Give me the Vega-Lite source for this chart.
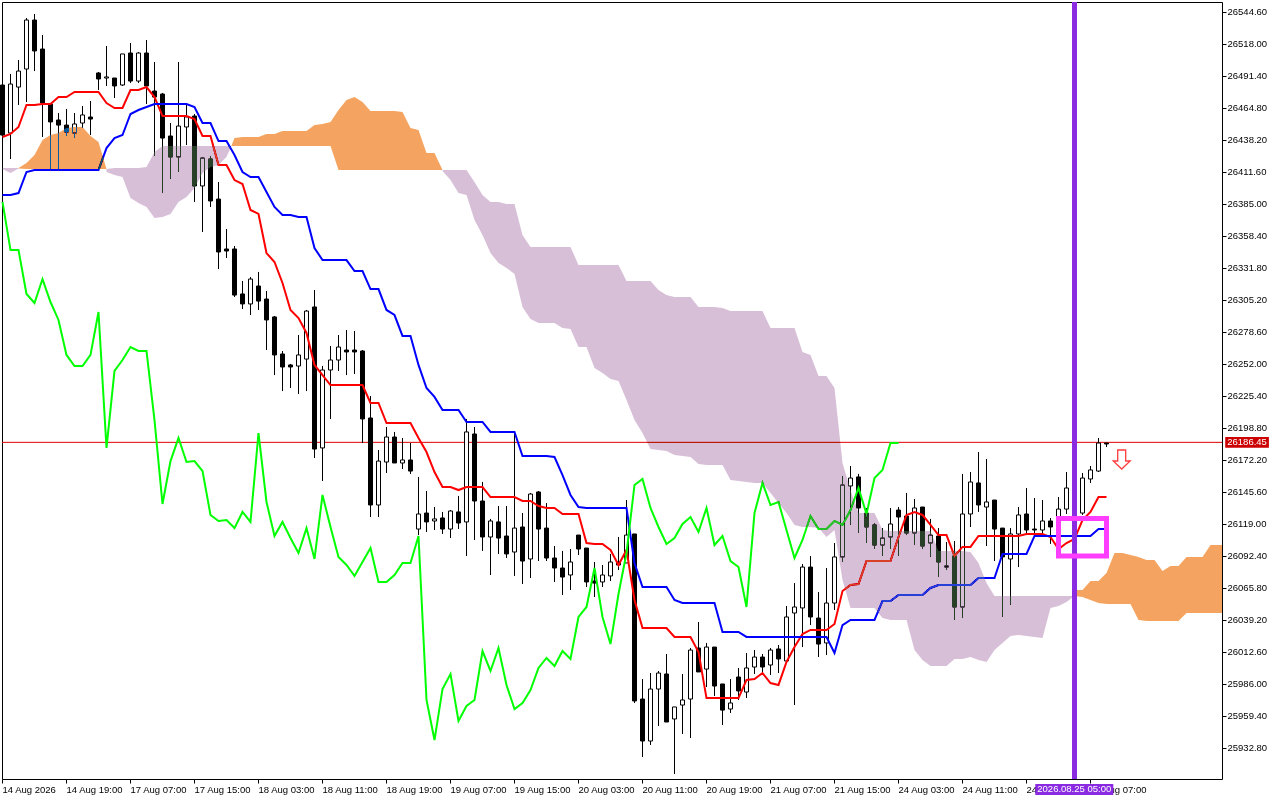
{"$schema":"https://vega.github.io/schema/vega-lite/v6.json","width":1220,"height":777,"autosize":{"type":"none"},"padding":{"left":2,"top":2,"right":58,"bottom":21},"background":"white","view":{"stroke":"black","strokeWidth":1,"fill":"white"},
"datasets":{"candles":[
{"i":0,"o":26483.5,"h":26483.5,"l":26441.9,"c":26441.9,"t":26440.3,"k":26392.1,"s":26386.3},
{"i":1,"o":26443.6,"h":26492.7,"l":26422.0,"c":26484.3,"t":26442.8,"k":26392.1,"s":26346.3},
{"i":2,"o":26481.8,"h":26504.3,"l":26466.9,"c":26495.1,"t":26448.6,"k":26393.7,"s":26346.3},
{"i":3,"o":26496.8,"h":26539.2,"l":26469.4,"c":26537.5,"t":26466.9,"k":26411.2,"s":26309.8},
{"i":4,"o":26537.5,"h":26542.5,"l":26495.1,"c":26511.8,"t":26466.9,"k":26412.8,"s":26302.3},
{"i":5,"o":26513.4,"h":26525.1,"l":26440.3,"c":26468.5,"t":26467.7,"k":26412.8,"s":26322.2},
{"i":6,"o":26467.7,"h":26467.7,"l":26413.7,"c":26452.8,"t":26467.7,"k":26412.8,"s":26303.1},
{"i":7,"o":26454.4,"h":26460.2,"l":26413.7,"c":26450.2,"t":26473.5,"k":26412.8,"s":26288.2},
{"i":8,"o":26450.2,"h":26463.6,"l":26441.1,"c":26444.4,"t":26473.5,"k":26412.8,"s":26259.1},
{"i":9,"o":26443.6,"h":26460.2,"l":26439.4,"c":26451.1,"t":26477.7,"k":26412.8,"s":26249.9},
{"i":10,"o":26451.9,"h":26466.0,"l":26447.8,"c":26458.6,"t":26477.7,"k":26412.8,"s":26249.9},
{"i":11,"o":26456.9,"h":26470.2,"l":26441.9,"c":26455.2,"t":26477.7,"k":26412.8,"s":26259.1},
{"i":12,"o":26493.5,"h":26494.3,"l":26479.3,"c":26488.5,"t":26477.7,"k":26412.8,"s":26294.8},
{"i":13,"o":26489.3,"h":26515.9,"l":26482.7,"c":26490.2,"t":26468.5,"k":26431.1,"s":26181.8},
{"i":14,"o":26489.3,"h":26489.3,"l":26472.7,"c":26482.7,"t":26464.4,"k":26439.4,"s":26245.8},
{"i":15,"o":26483.5,"h":26509.3,"l":26482.7,"c":26509.3,"t":26464.4,"k":26441.9,"s":26254.9},
{"i":16,"o":26510.1,"h":26518.4,"l":26485.2,"c":26486.8,"t":26479.3,"k":26459.4,"s":26265.7},
{"i":17,"o":26486.8,"h":26510.9,"l":26485.2,"c":26510.1,"t":26479.3,"k":26462.7,"s":26262.4},
{"i":18,"o":26510.1,"h":26520.9,"l":26467.7,"c":26482.7,"t":26481.8,"k":26465.2,"s":26262.4},
{"i":19,"o":26478.5,"h":26502.6,"l":26424.5,"c":26473.5,"t":26473.5,"k":26467.7,"s":26205.0},
{"i":20,"o":26476.0,"h":26476.9,"l":26393.7,"c":26439.4,"t":26457.7,"k":26467.7,"s":26135.2},
{"i":21,"o":26441.1,"h":26451.9,"l":26405.4,"c":26423.7,"t":26457.7,"k":26467.7,"s":26170.9},
{"i":22,"o":26423.7,"h":26502.6,"l":26411.2,"c":26449.4,"t":26457.7,"k":26467.7,"s":26190.1},
{"i":23,"o":26448.6,"h":26466.9,"l":26433.6,"c":26456.9,"t":26457.7,"k":26467.7,"s":26170.1},
{"i":24,"o":26457.7,"h":26459.4,"l":26386.3,"c":26399.6,"t":26455.2,"k":26465.2,"s":26170.9},
{"i":25,"o":26399.6,"h":26423.7,"l":26361.3,"c":26422.8,"t":26441.1,"k":26451.9,"s":26162.6},
{"i":26,"o":26422.0,"h":26424.5,"l":26382.1,"c":26387.1,"t":26441.1,"k":26451.9,"s":26126.1},
{"i":27,"o":26388.7,"h":26402.9,"l":26330.5,"c":26344.7,"t":26417.0,"k":26436.9,"s":26121.1},
{"i":28,"o":26347.2,"h":26363.8,"l":26339.7,"c":26345.5,"t":26417.0,"k":26436.9,"s":26121.9},
{"i":29,"o":26347.2,"h":26349.7,"l":26307.3,"c":26308.9,"t":26404.5,"k":26425.3,"s":26115.2},
{"i":30,"o":26309.8,"h":26320.6,"l":26297.3,"c":26301.5,"t":26401.2,"k":26411.2,"s":26128.6},
{"i":31,"o":26301.5,"h":26323.9,"l":26292.3,"c":26322.2,"t":26379.6,"k":26407.0,"s":26120.3},
{"i":32,"o":26316.4,"h":26328.1,"l":26296.5,"c":26303.9,"t":26376.3,"k":26407.0,"s":26194.2},
{"i":33,"o":26305.6,"h":26312.3,"l":26263.2,"c":26288.2,"t":26343.8,"k":26394.6,"s":26136.9},
{"i":34,"o":26290.7,"h":26291.5,"l":26242.4,"c":26259.1,"t":26336.4,"k":26382.1,"s":26108.6},
{"i":35,"o":26259.9,"h":26262.4,"l":26229.1,"c":26249.1,"t":26318.9,"k":26375.4,"s":26120.3},
{"i":36,"o":26250.8,"h":26251.6,"l":26231.6,"c":26249.1,"t":26296.5,"k":26375.4,"s":26106.9},
{"i":37,"o":26249.9,"h":26275.7,"l":26226.7,"c":26259.1,"t":26289.8,"k":26373.8,"s":26094.5},
{"i":38,"o":26255.7,"h":26296.5,"l":26229.1,"c":26295.6,"t":26277.4,"k":26373.8,"s":26115.2},
{"i":39,"o":26299.0,"h":26313.1,"l":26173.4,"c":26180.9,"t":26250.8,"k":26348.0,"s":26089.5},
{"i":40,"o":26181.8,"h":26250.0,"l":26154.3,"c":26246.6,"t":26242.4,"k":26338.0,"s":26142.7},
{"i":41,"o":26246.6,"h":26266.5,"l":26205.9,"c":26254.9,"t":26234.1,"k":26338.0,"s":26116.1},
{"i":42,"o":26254.9,"h":26275.7,"l":26245.8,"c":26265.7,"t":26234.1,"k":26338.0,"s":26091.2},
{"i":43,"o":26263.2,"h":26279.8,"l":26242.4,"c":26261.6,"t":26234.1,"k":26338.0,"s":26084.5},
{"i":44,"o":26263.2,"h":26279.0,"l":26243.3,"c":26261.6,"t":26234.1,"k":26328.9,"s":26075.4},
{"i":45,"o":26262.4,"h":26263.2,"l":26185.9,"c":26205.9,"t":26234.1,"k":26328.9,"s":26087.0},
{"i":46,"o":26206.7,"h":26225.0,"l":26124.4,"c":26134.4,"t":26219.2,"k":26313.9,"s":26098.6},
{"i":47,"o":26134.4,"h":26180.1,"l":26124.4,"c":26170.9,"t":26219.2,"k":26313.9,"s":26070.4},
{"i":48,"o":26170.1,"h":26199.2,"l":26161.0,"c":26190.9,"t":26202.5,"k":26296.5,"s":26070.4},
{"i":49,"o":26190.9,"h":26195.1,"l":26169.3,"c":26169.3,"t":26202.5,"k":26292.3,"s":26076.2},
{"i":50,"o":26169.3,"h":26190.1,"l":26164.3,"c":26171.8,"t":26202.5,"k":26274.9,"s":26086.2},
{"i":51,"o":26171.8,"h":26185.9,"l":26160.2,"c":26162.6,"t":26202.5,"k":26274.9,"s":26086.2},
{"i":52,"o":26114.4,"h":26157.7,"l":26109.4,"c":26126.9,"t":26190.1,"k":26250.8,"s":26108.6},
{"i":53,"o":26127.7,"h":26146.0,"l":26111.9,"c":26120.3,"t":26178.4,"k":26231.6,"s":25972.3},
{"i":54,"o":26121.1,"h":26132.7,"l":26113.6,"c":26122.8,"t":26161.8,"k":26224.2,"s":25939.0},
{"i":55,"o":26123.6,"h":26128.6,"l":26110.3,"c":26114.4,"t":26149.3,"k":26213.3,"s":25981.4},
{"i":56,"o":26114.4,"h":26130.2,"l":26106.9,"c":26129.4,"t":26149.3,"k":26213.3,"s":25993.9},
{"i":57,"o":26128.6,"h":26141.9,"l":26114.4,"c":26119.4,"t":26146.8,"k":26213.3,"s":25954.8},
{"i":58,"o":26120.3,"h":26205.9,"l":26092.0,"c":26195.1,"t":26149.3,"k":26203.4,"s":25967.3},
{"i":59,"o":26193.4,"h":26199.2,"l":26105.3,"c":26137.7,"t":26149.3,"k":26203.4,"s":25972.3},
{"i":60,"o":26137.7,"h":26153.5,"l":26096.2,"c":26107.8,"t":26149.3,"k":26203.4,"s":26013.0},
{"i":61,"o":26107.8,"h":26122.8,"l":26076.2,"c":26121.1,"t":26141.0,"k":26195.1,"s":25996.4},
{"i":62,"o":26120.3,"h":26133.5,"l":26093.7,"c":26106.9,"t":26141.0,"k":26195.1,"s":26015.5},
{"i":63,"o":26108.6,"h":26133.5,"l":26090.3,"c":26093.7,"t":26141.0,"k":26195.1,"s":25984.8},
{"i":64,"o":26095.3,"h":26195.1,"l":26075.4,"c":26115.2,"t":26141.0,"k":26195.1,"s":25964.8},
{"i":65,"o":26116.1,"h":26127.7,"l":26068.7,"c":26087.8,"t":26137.7,"k":26175.1,"s":25969.8},
{"i":66,"o":26089.5,"h":26144.4,"l":26073.7,"c":26143.5,"t":26137.7,"k":26175.1,"s":25980.6},
{"i":67,"o":26145.2,"h":26146.0,"l":26087.8,"c":26114.4,"t":26133.5,"k":26175.1,"s":25998.9},
{"i":68,"o":26115.2,"h":26136.0,"l":26087.8,"c":26090.3,"t":26131.9,"k":26175.1,"s":26007.2},
{"i":69,"o":26090.3,"h":26100.3,"l":26070.4,"c":26082.0,"t":26131.9,"k":26174.3,"s":26000.5},
{"i":70,"o":26082.0,"h":26096.2,"l":26059.6,"c":26074.5,"t":26126.9,"k":26159.3,"s":26013.0},
{"i":71,"o":26076.2,"h":26097.8,"l":26063.7,"c":26087.0,"t":26126.9,"k":26142.7,"s":26006.4},
{"i":72,"o":26109.4,"h":26109.4,"l":26092.8,"c":26097.8,"t":26126.9,"k":26132.7,"s":26041.3},
{"i":73,"o":26098.6,"h":26098.6,"l":26066.2,"c":26070.4,"t":26102.8,"k":26131.9,"s":26049.6},
{"i":74,"o":26071.2,"h":26087.0,"l":26057.9,"c":26069.5,"t":26102.0,"k":26131.9,"s":26082.0},
{"i":75,"o":26070.4,"h":26084.5,"l":26066.2,"c":26076.2,"t":26102.0,"k":26131.9,"s":26041.3},
{"i":76,"o":26075.4,"h":26093.7,"l":26071.2,"c":26087.0,"t":26097.0,"k":26131.9,"s":26018.8},
{"i":77,"o":26087.0,"h":26107.8,"l":26080.3,"c":26084.5,"t":26084.5,"k":26131.9,"s":26060.4},
{"i":78,"o":26086.2,"h":26138.5,"l":26086.2,"c":26109.4,"t":26097.0,"k":26131.9,"s":26094.5},
{"i":79,"o":26110.3,"h":26110.3,"l":25969.8,"c":25971.5,"t":26055.4,"k":26086.2,"s":26151.0},
{"i":80,"o":25973.1,"h":25989.7,"l":25924.9,"c":25938.2,"t":26032.1,"k":26066.2,"s":26156.0},
{"i":81,"o":25938.2,"h":25994.7,"l":25934.9,"c":25981.4,"t":26032.1,"k":26066.2,"s":26131.9},
{"i":82,"o":25981.4,"h":25996.4,"l":25950.7,"c":25994.7,"t":26032.1,"k":26066.2,"s":26116.1},
{"i":83,"o":25993.9,"h":26010.5,"l":25954.0,"c":25954.0,"t":26032.1,"k":26066.2,"s":26102.0},
{"i":84,"o":25956.5,"h":25966.5,"l":25910.8,"c":25966.5,"t":26024.7,"k":26055.4,"s":26106.9},
{"i":85,"o":25968.1,"h":25993.9,"l":25944.0,"c":25972.3,"t":26024.7,"k":26052.9,"s":26118.6},
{"i":86,"o":25973.1,"h":26015.5,"l":25940.7,"c":26013.8,"t":26024.7,"k":26052.9,"s":26124.4},
{"i":87,"o":26015.5,"h":26037.1,"l":25995.6,"c":25995.6,"t":26012.2,"k":26052.9,"s":26111.9},
{"i":88,"o":25998.0,"h":26019.7,"l":25983.1,"c":26016.3,"t":25973.9,"k":26052.9,"s":26131.9},
{"i":89,"o":26016.3,"h":26016.3,"l":25975.6,"c":25983.9,"t":25973.9,"k":26052.9,"s":26101.1},
{"i":90,"o":25985.6,"h":25985.6,"l":25951.5,"c":25963.9,"t":25973.9,"k":26028.8,"s":26108.6},
{"i":91,"o":25964.8,"h":25989.7,"l":25961.5,"c":25969.8,"t":25973.9,"k":26028.8,"s":26087.8},
{"i":92,"o":25991.4,"h":25998.9,"l":25972.3,"c":25979.8,"t":25973.9,"k":26028.8,"s":26082.8},
{"i":93,"o":25978.9,"h":26011.3,"l":25973.9,"c":25998.9,"t":25988.9,"k":26024.7,"s":26049.6},
{"i":94,"o":25999.7,"h":26013.8,"l":25993.9,"c":26008.0,"t":25989.7,"k":26024.7,"s":26127.7},
{"i":95,"o":26008.0,"h":26010.5,"l":25994.7,"c":25999.7,"t":25994.7,"k":26024.7,"s":26152.7},
{"i":96,"o":26001.4,"h":26015.5,"l":25993.1,"c":26013.8,"t":25986.4,"k":26024.7,"s":26134.4},
{"i":97,"o":26014.7,"h":26018.0,"l":25994.7,"c":26006.4,"t":25984.8,"k":26024.7,"s":26136.9},
{"i":98,"o":26004.7,"h":26050.4,"l":26004.7,"c":26041.3,"t":26003.9,"k":26024.7,"s":26113.6},
{"i":99,"o":26044.6,"h":26069.5,"l":25968.1,"c":26049.6,"t":26016.3,"k":26024.7,"s":26090.3},
{"i":100,"o":26048.8,"h":26085.3,"l":26016.3,"c":26082.8,"t":26027.1,"k":26024.7,"s":26105.3},
{"i":101,"o":26082.8,"h":26091.9,"l":26034.6,"c":26041.3,"t":26030.5,"k":26024.7,"s":26125.2},
{"i":102,"o":26040.4,"h":26062.0,"l":26008.0,"c":26018.8,"t":26030.5,"k":26024.7,"s":26114.4},
{"i":103,"o":26019.7,"h":26082.0,"l":26009.7,"c":26052.9,"t":26030.5,"k":26024.7,"s":26114.4},
{"i":104,"o":26052.9,"h":26102.8,"l":26047.1,"c":26091.2,"t":26035.5,"k":26011.3,"s":26121.1},
{"i":105,"o":26091.2,"h":26158.5,"l":26087.0,"c":26151.0,"t":26062.9,"k":26034.6,"s":26117.8},
{"i":106,"o":26150.2,"h":26166.8,"l":26117.8,"c":26156.8,"t":26067.9,"k":26038.8,"s":26130.2},
{"i":107,"o":26157.7,"h":26160.2,"l":26111.1,"c":26131.9,"t":26068.7,"k":26038.8,"s":26148.5},
{"i":108,"o":26127.7,"h":26131.9,"l":26102.8,"c":26116.1,"t":26087.8,"k":26038.8,"s":26126.9},
{"i":109,"o":26117.8,"h":26119.4,"l":26097.8,"c":26101.1,"t":26087.8,"k":26038.8,"s":26156.8},
{"i":110,"o":26101.1,"h":26115.2,"l":26092.0,"c":26106.9,"t":26087.8,"k":26054.6,"s":26163.5},
{"i":111,"o":26107.8,"h":26131.9,"l":26097.8,"c":26118.6,"t":26087.8,"k":26054.6,"s":26185.9},
{"i":112,"o":26130.2,"h":26132.7,"l":26092.0,"c":26124.4,"t":26107.8,"k":26059.6,"s":26185.9},
{"i":113,"o":26125.2,"h":26144.4,"l":26109.4,"c":26111.1,"t":26126.1,"k":26059.6},
{"i":114,"o":26111.1,"h":26139.4,"l":26101.1,"c":26131.9,"t":26128.6,"k":26059.6},
{"i":115,"o":26132.7,"h":26132.7,"l":26097.8,"c":26100.3,"t":26126.1,"k":26059.6},
{"i":116,"o":26102.8,"h":26122.8,"l":26091.2,"c":26109.4,"t":26117.8,"k":26065.4},
{"i":117,"o":26108.6,"h":26115.2,"l":26074.5,"c":26087.0,"t":26109.4,"k":26067.9},
{"i":118,"o":26082.8,"h":26103.6,"l":26080.3,"c":26083.7,"t":26109.4,"k":26067.9},
{"i":119,"o":26092.0,"h":26104.4,"l":26038.8,"c":26049.6,"t":26092.0,"k":26067.9},
{"i":120,"o":26049.6,"h":26160.2,"l":26040.4,"c":26126.9,"t":26099.5,"k":26067.9},
{"i":121,"o":26126.9,"h":26161.8,"l":26116.1,"c":26153.5,"t":26099.5,"k":26067.9},
{"i":122,"o":26152.7,"h":26178.4,"l":26128.6,"c":26134.4,"t":26108.6,"k":26073.7},
{"i":123,"o":26132.7,"h":26172.6,"l":26100.3,"c":26136.9,"t":26108.6,"k":26073.7},
{"i":124,"o":26138.5,"h":26138.5,"l":26087.8,"c":26114.4,"t":26108.6,"k":26073.7},
{"i":125,"o":26115.2,"h":26115.2,"l":26041.3,"c":26091.2,"t":26108.6,"k":26093.7},
{"i":126,"o":26089.5,"h":26115.2,"l":26051.3,"c":26110.3,"t":26108.6,"k":26093.7},
{"i":127,"o":26110.3,"h":26132.7,"l":26082.8,"c":26126.1,"t":26108.6,"k":26093.7},
{"i":128,"o":26126.9,"h":26148.5,"l":26109.4,"c":26113.6,"t":26110.3,"k":26093.7},
{"i":129,"o":26114.4,"h":26140.2,"l":26109.4,"c":26113.6,"t":26110.3,"k":26108.6},
{"i":130,"o":26113.6,"h":26138.5,"l":26109.4,"c":26121.1,"t":26110.3,"k":26108.6},
{"i":131,"o":26121.1,"h":26123.6,"l":26102.0,"c":26116.1,"t":26107.8,"k":26108.6},
{"i":132,"o":26121.9,"h":26141.0,"l":26113.6,"c":26131.0,"t":26097.8,"k":26108.6},
{"i":133,"o":26131.0,"h":26161.8,"l":26126.9,"c":26148.5,"t":26102.8,"k":26108.6},
{"i":134,"o":26128.6,"h":26155.2,"l":26123.6,"c":26146.8,"t":26106.1,"k":26108.6},
{"i":135,"o":26127.7,"h":26161.0,"l":26126.1,"c":26156.8,"t":26121.9,"k":26108.6},
{"i":136,"o":26156.0,"h":26166.8,"l":26152.7,"c":26163.5,"t":26128.6,"k":26108.6},
{"i":137,"o":26162.6,"h":26190.1,"l":26161.8,"c":26185.9,"t":26141.0,"k":26114.4},
{"i":138,"o":26185.9,"h":26185.9,"l":26182.6,"c":26185.1,"t":26141.0,"k":26114.4}
],
"kumo":[
{"seg":1,"kind":"bear","i":0,"top":26414.5,"bottom":26413.7},{"seg":1,"kind":"bear","i":1,"top":26414.5,"bottom":26410.4},{"seg":1,"kind":"bear","i":2,"top":26414.5,"bottom":26414.1},
{"seg":2,"kind":"bull","i":2,"top":26414.5,"bottom":26414.1},{"seg":2,"kind":"bull","i":3,"top":26418.7,"bottom":26413.7},{"seg":2,"kind":"bull","i":4,"top":26425.3,"bottom":26413.7},{"seg":2,"kind":"bull","i":5,"top":26437.8,"bottom":26413.7},{"seg":2,"kind":"bull","i":6,"top":26441.9,"bottom":26413.7},{"seg":2,"kind":"bull","i":7,"top":26443.6,"bottom":26413.7},{"seg":2,"kind":"bull","i":8,"top":26447.8,"bottom":26413.7},{"seg":2,"kind":"bull","i":9,"top":26448.6,"bottom":26413.7},{"seg":2,"kind":"bull","i":10,"top":26448.6,"bottom":26413.7},{"seg":2,"kind":"bull","i":11,"top":26441.1,"bottom":26413.7},{"seg":2,"kind":"bull","i":12,"top":26436.1,"bottom":26413.7},{"seg":2,"kind":"bull","i":13,"top":26413.7,"bottom":26413.7},
{"seg":3,"kind":"bear","i":13,"top":26413.7,"bottom":26411.2},{"seg":3,"kind":"bear","i":14,"top":26414.5,"bottom":26408.7},{"seg":3,"kind":"bear","i":15,"top":26414.5,"bottom":26407.0},{"seg":3,"kind":"bear","i":16,"top":26414.5,"bottom":26389.6},{"seg":3,"kind":"bear","i":17,"top":26414.5,"bottom":26385.4},{"seg":3,"kind":"bear","i":18,"top":26415.3,"bottom":26382.1},{"seg":3,"kind":"bear","i":19,"top":26427.8,"bottom":26372.9},{"seg":3,"kind":"bear","i":20,"top":26432.8,"bottom":26373.8},{"seg":3,"kind":"bear","i":21,"top":26432.8,"bottom":26376.3},{"seg":3,"kind":"bear","i":22,"top":26432.8,"bottom":26386.3},{"seg":3,"kind":"bear","i":23,"top":26432.8,"bottom":26390.4},{"seg":3,"kind":"bear","i":24,"top":26432.8,"bottom":26397.9},{"seg":3,"kind":"bear","i":25,"top":26432.8,"bottom":26410.4},{"seg":3,"kind":"bear","i":26,"top":26432.8,"bottom":26415.3},{"seg":3,"kind":"bear","i":27,"top":26432.8,"bottom":26417.0},{"seg":3,"kind":"bear","i":28,"top":26432.8,"bottom":26423.7},{"seg":3,"kind":"bear","i":28.6,"top":26432.8,"bottom":26432.8},
{"seg":4,"kind":"bull","i":28.6,"top":26432.8,"bottom":26432.8},{"seg":4,"kind":"bull","i":29,"top":26439.4,"bottom":26432.8},{"seg":4,"kind":"bull","i":30,"top":26440.3,"bottom":26432.8},{"seg":4,"kind":"bull","i":31,"top":26440.3,"bottom":26432.8},{"seg":4,"kind":"bull","i":32,"top":26440.3,"bottom":26432.8},{"seg":4,"kind":"bull","i":33,"top":26442.8,"bottom":26432.8},{"seg":4,"kind":"bull","i":34,"top":26442.8,"bottom":26432.8},{"seg":4,"kind":"bull","i":35,"top":26445.3,"bottom":26432.8},{"seg":4,"kind":"bull","i":36,"top":26445.3,"bottom":26432.8},{"seg":4,"kind":"bull","i":37,"top":26445.3,"bottom":26432.8},{"seg":4,"kind":"bull","i":38,"top":26445.3,"bottom":26432.8},{"seg":4,"kind":"bull","i":39,"top":26450.2,"bottom":26432.8},{"seg":4,"kind":"bull","i":40,"top":26451.1,"bottom":26432.8},{"seg":4,"kind":"bull","i":41,"top":26452.8,"bottom":26432.8},{"seg":4,"kind":"bull","i":42,"top":26462.7,"bottom":26412.8},{"seg":4,"kind":"bull","i":43,"top":26471.0,"bottom":26412.8},{"seg":4,"kind":"bull","i":44,"top":26473.5,"bottom":26412.8},{"seg":4,"kind":"bull","i":45,"top":26469.4,"bottom":26412.8},{"seg":4,"kind":"bull","i":46,"top":26461.9,"bottom":26412.8},{"seg":4,"kind":"bull","i":47,"top":26461.9,"bottom":26412.8},{"seg":4,"kind":"bull","i":48,"top":26461.9,"bottom":26412.8},{"seg":4,"kind":"bull","i":49,"top":26461.9,"bottom":26412.8},{"seg":4,"kind":"bull","i":50,"top":26461.1,"bottom":26412.8},{"seg":4,"kind":"bull","i":51,"top":26447.8,"bottom":26412.8},{"seg":4,"kind":"bull","i":52,"top":26446.1,"bottom":26412.8},{"seg":4,"kind":"bull","i":53,"top":26427.0,"bottom":26412.8},{"seg":4,"kind":"bull","i":54,"top":26427.0,"bottom":26412.8},{"seg":4,"kind":"bull","i":55,"top":26412.8,"bottom":26412.8},
{"seg":5,"kind":"bear","i":55,"top":26412.8,"bottom":26412.0},{"seg":5,"kind":"bear","i":56,"top":26412.8,"bottom":26404.5},{"seg":5,"kind":"bear","i":57,"top":26412.8,"bottom":26393.7},{"seg":5,"kind":"bear","i":58,"top":26412.8,"bottom":26392.1},{"seg":5,"kind":"bear","i":59,"top":26402.9,"bottom":26371.3},{"seg":5,"kind":"bear","i":60,"top":26392.1,"bottom":26358.8},{"seg":5,"kind":"bear","i":61,"top":26386.3,"bottom":26343.8},{"seg":5,"kind":"bear","i":62,"top":26386.3,"bottom":26335.5},{"seg":5,"kind":"bear","i":63,"top":26384.6,"bottom":26331.4},{"seg":5,"kind":"bear","i":64,"top":26384.6,"bottom":26326.4},{"seg":5,"kind":"bear","i":65,"top":26358.8,"bottom":26299.0},{"seg":5,"kind":"bear","i":66,"top":26348.8,"bottom":26289.0},{"seg":5,"kind":"bear","i":67,"top":26348.8,"bottom":26285.7},{"seg":5,"kind":"bear","i":68,"top":26348.8,"bottom":26285.7},{"seg":5,"kind":"bear","i":69,"top":26348.8,"bottom":26285.7},{"seg":5,"kind":"bear","i":70,"top":26348.8,"bottom":26281.5},{"seg":5,"kind":"bear","i":71,"top":26348.8,"bottom":26280.7},{"seg":5,"kind":"bear","i":72,"top":26333.9,"bottom":26265.7},{"seg":5,"kind":"bear","i":73,"top":26333.9,"bottom":26265.7},{"seg":5,"kind":"bear","i":74,"top":26333.9,"bottom":26248.3},{"seg":5,"kind":"bear","i":75,"top":26333.9,"bottom":26244.1},{"seg":5,"kind":"bear","i":76,"top":26333.9,"bottom":26239.1},{"seg":5,"kind":"bear","i":77,"top":26333.9,"bottom":26237.5},{"seg":5,"kind":"bear","i":78,"top":26320.6,"bottom":26221.7},{"seg":5,"kind":"bear","i":79,"top":26320.6,"bottom":26205.0},{"seg":5,"kind":"bear","i":80,"top":26320.6,"bottom":26194.2},{"seg":5,"kind":"bear","i":81,"top":26320.6,"bottom":26180.9},{"seg":5,"kind":"bear","i":82,"top":26313.1,"bottom":26180.1},{"seg":5,"kind":"bear","i":83,"top":26308.9,"bottom":26179.3},{"seg":5,"kind":"bear","i":84,"top":26307.3,"bottom":26175.9},{"seg":5,"kind":"bear","i":85,"top":26307.3,"bottom":26175.1},{"seg":5,"kind":"bear","i":86,"top":26307.3,"bottom":26174.3},{"seg":5,"kind":"bear","i":87,"top":26299.0,"bottom":26168.5},{"seg":5,"kind":"bear","i":88,"top":26299.0,"bottom":26167.6},{"seg":5,"kind":"bear","i":89,"top":26299.0,"bottom":26167.6},{"seg":5,"kind":"bear","i":90,"top":26298.1,"bottom":26167.6},{"seg":5,"kind":"bear","i":91,"top":26295.6,"bottom":26155.2},{"seg":5,"kind":"bear","i":92,"top":26295.6,"bottom":26154.3},{"seg":5,"kind":"bear","i":93,"top":26295.6,"bottom":26153.5},{"seg":5,"kind":"bear","i":94,"top":26295.6,"bottom":26152.7},{"seg":5,"kind":"bear","i":95,"top":26295.6,"bottom":26152.7},{"seg":5,"kind":"bear","i":96,"top":26281.5,"bottom":26144.4},{"seg":5,"kind":"bear","i":97,"top":26281.5,"bottom":26136.0},{"seg":5,"kind":"bear","i":98,"top":26281.5,"bottom":26127.7},{"seg":5,"kind":"bear","i":99,"top":26281.5,"bottom":26117.8},{"seg":5,"kind":"bear","i":100,"top":26261.6,"bottom":26116.1},{"seg":5,"kind":"bear","i":101,"top":26259.1,"bottom":26116.1},{"seg":5,"kind":"bear","i":102,"top":26241.6,"bottom":26115.2},{"seg":5,"kind":"bear","i":103,"top":26241.6,"bottom":26107.8},{"seg":5,"kind":"bear","i":104,"top":26231.6,"bottom":26113.6},{"seg":5,"kind":"bear","i":105,"top":26169.3,"bottom":26072.0},{"seg":5,"kind":"bear","i":106,"top":26146.8,"bottom":26048.8},{"seg":5,"kind":"bear","i":107,"top":26127.7,"bottom":26048.8},{"seg":5,"kind":"bear","i":108,"top":26127.7,"bottom":26048.8},{"seg":5,"kind":"bear","i":109,"top":26127.7,"bottom":26048.8},{"seg":5,"kind":"bear","i":110,"top":26113.6,"bottom":26040.4},{"seg":5,"kind":"bear","i":111,"top":26112.8,"bottom":26038.8},{"seg":5,"kind":"bear","i":112,"top":26112.8,"bottom":26038.8},{"seg":5,"kind":"bear","i":113,"top":26112.8,"bottom":26038.8},{"seg":5,"kind":"bear","i":114,"top":26112.8,"bottom":26013.8},{"seg":5,"kind":"bear","i":115,"top":26112.8,"bottom":26005.5},{"seg":5,"kind":"bear","i":116,"top":26112.8,"bottom":26000.5},{"seg":5,"kind":"bear","i":117,"top":26096.2,"bottom":26000.5},{"seg":5,"kind":"bear","i":118,"top":26096.2,"bottom":26000.5},{"seg":5,"kind":"bear","i":119,"top":26096.2,"bottom":26006.4},{"seg":5,"kind":"bear","i":120,"top":26096.2,"bottom":26006.4},{"seg":5,"kind":"bear","i":121,"top":26095.3,"bottom":26008.0},{"seg":5,"kind":"bear","i":122,"top":26086.2,"bottom":26005.5},{"seg":5,"kind":"bear","i":123,"top":26069.5,"bottom":26003.9},{"seg":5,"kind":"bear","i":124,"top":26058.7,"bottom":26013.8},{"seg":5,"kind":"bear","i":125,"top":26058.7,"bottom":26019.7},{"seg":5,"kind":"bear","i":126,"top":26058.7,"bottom":26025.5},{"seg":5,"kind":"bear","i":127,"top":26058.7,"bottom":26026.3},{"seg":5,"kind":"bear","i":128,"top":26058.7,"bottom":26025.5},{"seg":5,"kind":"bear","i":129,"top":26058.7,"bottom":26024.7},{"seg":5,"kind":"bear","i":130,"top":26058.7,"bottom":26023.8},{"seg":5,"kind":"bear","i":131,"top":26058.7,"bottom":26048.8},{"seg":5,"kind":"bear","i":132,"top":26058.7,"bottom":26050.4},{"seg":5,"kind":"bear","i":133,"top":26058.7,"bottom":26053.7},{"seg":5,"kind":"bear","i":134,"top":26058.7,"bottom":26058.7},
{"seg":6,"kind":"bull","i":134,"top":26063.7,"bottom":26058.7},{"seg":6,"kind":"bull","i":135,"top":26063.7,"bottom":26057.9},{"seg":6,"kind":"bull","i":136,"top":26071.2,"bottom":26055.4},{"seg":6,"kind":"bull","i":137,"top":26071.2,"bottom":26052.9},{"seg":6,"kind":"bull","i":138,"top":26077.9,"bottom":26052.1},{"seg":6,"kind":"bull","i":139,"top":26094.5,"bottom":26052.1},{"seg":6,"kind":"bull","i":140,"top":26094.5,"bottom":26052.1},{"seg":6,"kind":"bull","i":141,"top":26092.8,"bottom":26052.1},{"seg":6,"kind":"bull","i":142,"top":26091.2,"bottom":26038.8},{"seg":6,"kind":"bull","i":143,"top":26088.7,"bottom":26038.0},{"seg":6,"kind":"bull","i":144,"top":26088.7,"bottom":26038.0},{"seg":6,"kind":"bull","i":145,"top":26079.5,"bottom":26038.0},{"seg":6,"kind":"bull","i":146,"top":26083.7,"bottom":26038.0},{"seg":6,"kind":"bull","i":147,"top":26083.7,"bottom":26038.0},{"seg":6,"kind":"bull","i":148,"top":26091.2,"bottom":26044.6},{"seg":6,"kind":"bull","i":149,"top":26091.2,"bottom":26044.6},{"seg":6,"kind":"bull","i":150,"top":26091.2,"bottom":26044.6},{"seg":6,"kind":"bull","i":151,"top":26101.1,"bottom":26044.6},{"seg":6,"kind":"bull","i":152,"top":26101.1,"bottom":26044.6},{"seg":6,"kind":"bull","i":152.44,"top":26101.1,"bottom":26044.6}
]},
"layer":[
{"data":{"values":[{"p":26186.45}]},"mark":{"type":"rule","stroke":"#e00000","strokeWidth":1},"encoding":{"y":{"field":"p","type":"quantitative","scale":{"domain":[25906.616,26552.497],"nice":false,"zero":false},"axis":{"orient":"right","title":null,"grid":false,"domain":false,"tickCount":40,"values":[26544.6,26518,26491.4,26464.8,26438.2,26411.6,26385,26358.4,26331.8,26305.2,26278.6,26252,26225.4,26198.8,26172.2,26145.6,26119,26092.4,26065.8,26039.2,26012.6,25986,25959.4,25932.8],"format":".2f","tickSize":4,"tickColor":"black","labelColor":"black","labelFont":"Liberation Sans","labelFontSize":9.5,"labelPadding":1,"labelOverlap":false,"labelFlush":false,"labelBound":false}}}},
{"data":{"name":"candles"},"mark":{"type":"rule","stroke":"black","strokeWidth":1},"encoding":{
"x":{"field":"i","type":"quantitative","scale":{"domain":[-0.0625,152.4375],"nice":false,"zero":false,"padding":0},"axis":{"orient":"bottom","title":null,"grid":false,"domain":false,"tickCount":40,"values":[-0.0625,7.9375,15.9375,23.9375,31.9375,39.9375,47.9375,55.9375,63.9375,71.9375,79.9375,87.9375,95.9375,103.9375,111.9375,119.9375,127.9375,135.9375],"labelExpr":"['14 Aug 2026','14 Aug 19:00','17 Aug 07:00','17 Aug 15:00','18 Aug 03:00','18 Aug 11:00','18 Aug 19:00','19 Aug 07:00','19 Aug 15:00','20 Aug 03:00','20 Aug 11:00','20 Aug 19:00','21 Aug 07:00','21 Aug 15:00','24 Aug 03:00','24 Aug 11:00','24 Aug 19:00','25 Aug 07:00'][round((datum.value+0.0625)/8)]","labelAlign":"left","labelBaseline":"top","labelPadding":1,"tickSize":4,"tickColor":"black","labelColor":"black","labelFont":"Liberation Sans","labelFontSize":9.5,"labelFlush":false,"labelOverlap":false,"labelBound":false}},
"y":{"field":"l","type":"quantitative"},
"y2":{"field":"h"}}},
{"data":{"name":"candles"},"mark":{"type":"bar","size":4,"stroke":"black","strokeWidth":1},"encoding":{"x":{"field":"i","type":"quantitative"},"y":{"field":"o","type":"quantitative"},"y2":{"field":"c"},"fill":{"condition":{"test":"datum.c>datum.o","value":"white"},"value":"black"}}},
{"data":{"name":"candles"},"mark":{"type":"line","stroke":"#ff0000","strokeWidth":2},"encoding":{"x":{"field":"i","type":"quantitative"},"y":{"field":"t","type":"quantitative"}}},
{"data":{"name":"candles"},"mark":{"type":"line","stroke":"#0000ff","strokeWidth":2},"encoding":{"x":{"field":"i","type":"quantitative"},"y":{"field":"k","type":"quantitative"}}},
{"data":{"name":"candles"},"mark":{"type":"line","stroke":"#00ff00","strokeWidth":2},"encoding":{"x":{"field":"i","type":"quantitative"},"y":{"field":"s","type":"quantitative"}}},
{"data":{"name":"kumo"},"mark":{"type":"area","blend":"difference","interpolate":"linear"},"encoding":{"x":{"field":"i","type":"quantitative"},"y":{"field":"top","type":"quantitative"},"y2":{"field":"bottom"},"detail":{"field":"seg"},"color":{"field":"kind","type":"nominal","legend":null,"scale":{"domain":["bull","bear"],"range":["#0b5b9f","#274027"]}}}},
{"data":{"values":[{"i":134}]},"mark":{"type":"rule","stroke":"#8a2be2","strokeWidth":5},"encoding":{"x":{"field":"i","type":"quantitative"}}},
{"data":{"values":[{"a":132,"b":138,"lo":26092,"hi":26123.2}]},"mark":{"type":"rect","fill":null,"stroke":"#ff3dff","strokeWidth":5},"encoding":{"x":{"field":"a","type":"quantitative"},"x2":{"field":"b"},"y":{"field":"lo","type":"quantitative"},"y2":{"field":"hi"}}},
{"data":{"values":[{"i":139.9,"p":26172.2}]},"mark":{"type":"point","filled":false,"size":361,"fill":"white","fillOpacity":1,"stroke":"#ff3c3c","strokeWidth":1.3,"opacity":1,"shape":"M-0.42,-1L0.42,-1L0.42,0.16L0.89,0.16L0,1L-0.89,0.16L-0.42,0.16Z"},"encoding":{"x":{"field":"i","type":"quantitative"},"y":{"field":"p","type":"quantitative"}}},
{"data":{"values":[{"a":152.84,"b":158.3,"lo":26182,"hi":26190.9}]},"mark":{"type":"rect","fill":"#cc0000"},"encoding":{"x":{"field":"a","type":"quantitative"},"x2":{"field":"b"},"y":{"field":"lo","type":"quantitative"},"y2":{"field":"hi"}}},
{"data":{"values":[{"i":155.57,"p":26186.45,"txt":"26186.45"}]},"mark":{"type":"text","color":"white","font":"Liberation Sans","fontSize":9.5,"align":"center","baseline":"middle"},"encoding":{"x":{"field":"i","type":"quantitative"},"y":{"field":"p","type":"quantitative"},"text":{"field":"txt"}}},
{"data":{"values":[{"a":129.1,"b":138.85,"lo":25893.3,"hi":25902.5}]},"mark":{"type":"rect","fill":"#8a2be2"},"encoding":{"x":{"field":"a","type":"quantitative"},"x2":{"field":"b"},"y":{"field":"lo","type":"quantitative"},"y2":{"field":"hi"}}},
{"data":{"values":[{"i":133.97,"p":25897.9,"txt":"2026.08.25 05:00"}]},"mark":{"type":"text","color":"white","font":"Liberation Sans","fontSize":9.5,"align":"center","baseline":"middle"},"encoding":{"x":{"field":"i","type":"quantitative"},"y":{"field":"p","type":"quantitative"},"text":{"field":"txt"}}}
]}
